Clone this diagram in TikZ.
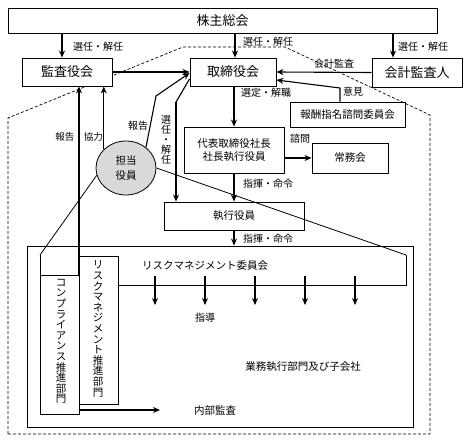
\documentclass[tikz,border=0pt]{standalone}
\usepackage{fontspec}
\setmainfont{Noto Sans CJK JP}
\usetikzlibrary{arrows.meta,shapes.geometric}
\begin{document}
\begin{tikzpicture}[x=1pt,y=-1pt,
  box/.style={draw, line width=0.9pt, fill=white, inner sep=0pt},
  bigf/.style={font=\fontsize{13}{15}\selectfont},
  smf/.style={font=\fontsize{10.5}{12.5}\selectfont},
  lab/.style={font=\fontsize{10}{11}\selectfont, inner sep=0pt},
  arr/.style={line width=1.1pt, -{Stealth[length=7pt,width=6pt]}},
  ln/.style={line width=0.8pt},
  dsh/.style={line width=0.7pt, dash pattern=on 3pt off 2pt}]
\useasboundingbox (0,0) rectangle (468,442);

% dashed company boundary
\draw[dsh] (8,434) -- (8,118) -- (183,47) -- (285,47) -- (430,115) -- (430,434) -- cycle;

% big box
\node[draw, line width=0.9pt, inner sep=0pt, minimum width=386pt, minimum height=181pt] (gyomu) at (220,336.5) {};

% boxes
\node[box,bigf,minimum width=429pt,minimum height=25pt] (kabu) at (222.5,20.5) {株主総会};
\node[box,bigf,minimum width=90pt,minimum height=28pt] (kansa) at (67,72) {監査役会};
\node[box,bigf,minimum width=86pt,minimum height=28pt] (tori) at (233,72) {取締役会};
\node[box,bigf,minimum width=90pt,minimum height=29pt] (kaikei) at (417,72.5) {会計監査人};
\node[box,smf,minimum width=115pt,minimum height=25pt] (hoshu) at (347.5,114.5) {報酬指名諮問委員会};
\node[box,smf,minimum width=100pt,minimum height=46pt,align=center] (daihyo) at (234,150) {代表取締役社長\\[1pt]社長執行役員};
\node[box,smf,minimum width=76pt,minimum height=30pt] (jomu) at (350,158) {常務会};
\node[box,smf,minimum width=140pt,minimum height=28pt] (shikko) at (234,216) {執行役員};

% named points
\coordinate (rp) at (156,96);
\coordinate (sp) at (176,102);
\coordinate (hp) at (340,88);
\coordinate (dg) at (40,255);
\coordinate (ctl) at (40,275);
\coordinate (ctr) at (79,275);
\coordinate (cbl) at (40,414);
\coordinate (cbr) at (79,414);
\coordinate (cst) at (79,404);
\coordinate (rc1) at (406,255);
\coordinate (rc2) at (406,285);
\coordinate (rc3) at (118,285);
\coordinate (ia) at (79,410);
\coordinate (ib) at (160,410);

% risk management committee outline
\draw[ln] (406,255) -- (rc2) -- (rc3);
% compliance department outline
\draw[ln] (dg) -- (cbl) -- (cbr) -- (cst);
\draw[ln] (ctl) -- (ctr);
% risk management promotion department
\node[box,minimum width=39pt,minimum height=148pt, line width=0.8pt] (riskbox) at (98.5,330) {};

% person in charge
\node[draw, ellipse, line width=0.8pt, fill=black!15, inner sep=0pt, minimum width=60pt, minimum height=54pt, align=center, smf] (circ) at (126,168) {担当\\[2pt]役員};
\draw[ln] (circ.0) -- (rc1);
\draw[ln] (circ.194) -- (dg);

% arrows from shareholders meeting
\draw[arr] (kabu.south -| 62,0) -- (kansa.north -| 62,0);
\draw[arr] (kabu.south -| 235,0) -- (tori.north -| 235,0);
\draw[arr] (kabu.south -| 393,0) -- (kaikei.north -| 393,0);

\draw[arr] (kansa.east) -- (tori.west);
\draw[arr] (kaikei.west) -- (tori.east);
\draw[arr] (hoshu.north -| hp) -- (hp) -- (tori.east |- 0,80);
\draw[arr] (tori.south -| daihyo.north) -- (daihyo.north);
\draw[arr] (daihyo.east |- jomu.west) -- (jomu.west);
\draw[arr] (daihyo.south) -- (shikko.north);
\draw[arr] (shikko.south) -- (shikko.south |- gyomu.north);
\draw[arr] (circ.46) -- (rp) -- (tori.west |- 0,73);
\draw[line width=1.1pt] (tori.west |- 0,79) -- (sp);
\draw[arr] (sp) -- (shikko.north -| sp);
\draw[arr] (circ.140) -- (circ.140 |- kansa.south);
\draw[arr] (ctr) -- (ctr |- kansa.south);
\draw[arr] (ia) -- (ib);

% guidance arrows
\foreach \x in {155,205,255,305,355} {
  \coordinate (g\x) at (\x,276);
  \draw[arr] (g\x) -- (\x,305);
}

% labels
\node[lab] (l1) at (98,47) {選任・解任};
\node[lab] (l2) at (268,42) {選任・解任};
\node[lab] (l3) at (423,47) {選任・解任};
\node[lab] (l4) at (334,64) {会計監査};
\node[lab] (l5) at (353,92) {意見};
\node[lab] (l6) at (266,93) {選定・解職};
\node[lab] (l7) at (300,139) {諮問};
\node[lab] (l8) at (268,184) {指揮・命令};
\node[lab] (l9) at (268,239) {指揮・命令};
\node[lab] (l10) at (138,126) {報告};
\node[lab,font=\fontsize{9.5}{11}\selectfont] (l11) at (79,137) {報告・協力};
\node[lab,align=center,font=\fontsize{10}{10}\selectfont] (l12) at (166,140) {選\\任\\・\\解\\任};
\node[smf] (rmc) at (205,266) {リスクマネジメント委員会};
\node[lab] (l13) at (205,318) {指導};
\node[smf] (gtxt) at (303,367) {業務執行部門及び子会社};
\node[smf] (naibu) at (215,411) {内部監査};
\node[align=center,inner sep=0pt,font=\fontsize{10.5}{10.6}\selectfont] (comptxt) at (61,341.5) {コ\\ン\\プ\\ラ\\イ\\ア\\ン\\ス\\推\\進\\部\\門};
\node[align=center,inner sep=0pt,font=\fontsize{10.5}{10.6}\selectfont] (risktxt) at (98,329) {リ\\ス\\ク\\マ\\ネ\\ジ\\メ\\ン\\ト\\推\\進\\部\\門};
\end{tikzpicture}
\end{document}
